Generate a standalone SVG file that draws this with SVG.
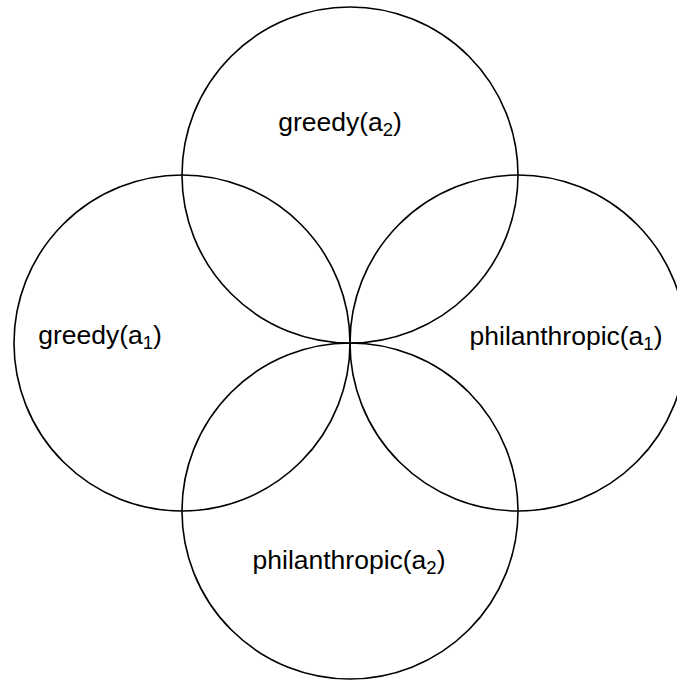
<svg xmlns="http://www.w3.org/2000/svg" width="677" height="681" viewBox="0 0 677 681">
<style>
.c{fill:none;stroke:#000;stroke-width:1.6}
.t{font-family:"Liberation Sans",Arial,sans-serif;font-size:26.5px;fill:#000;text-anchor:middle}
.s{font-size:18.5px}
</style>
<rect width="677" height="681" fill="#fff"/>
<g id="greedy-a2"><circle class="c" cx="350" cy="175" r="168"/><text class="t" x="340" y="131">greedy(a<tspan class="s" dy="5">2</tspan><tspan dy="-5">)</tspan></text></g>
<g id="greedy-a1"><circle class="c" cx="182" cy="343" r="168"/><text class="t" x="100" y="344">greedy(a<tspan class="s" dy="5">1</tspan><tspan dy="-5">)</tspan></text></g>
<g id="philanthropic-a1"><circle class="c" cx="518" cy="343" r="168"/><text class="t" x="566" y="345">philanthropic(a<tspan class="s" dy="5">1</tspan><tspan dy="-5">)</tspan></text></g>
<g id="philanthropic-a2"><circle class="c" cx="350" cy="511" r="168"/><text class="t" x="349" y="569">philanthropic(a<tspan class="s" dy="5">2</tspan><tspan dy="-5">)</tspan></text></g>
<g id="connectors"/>
</svg>
